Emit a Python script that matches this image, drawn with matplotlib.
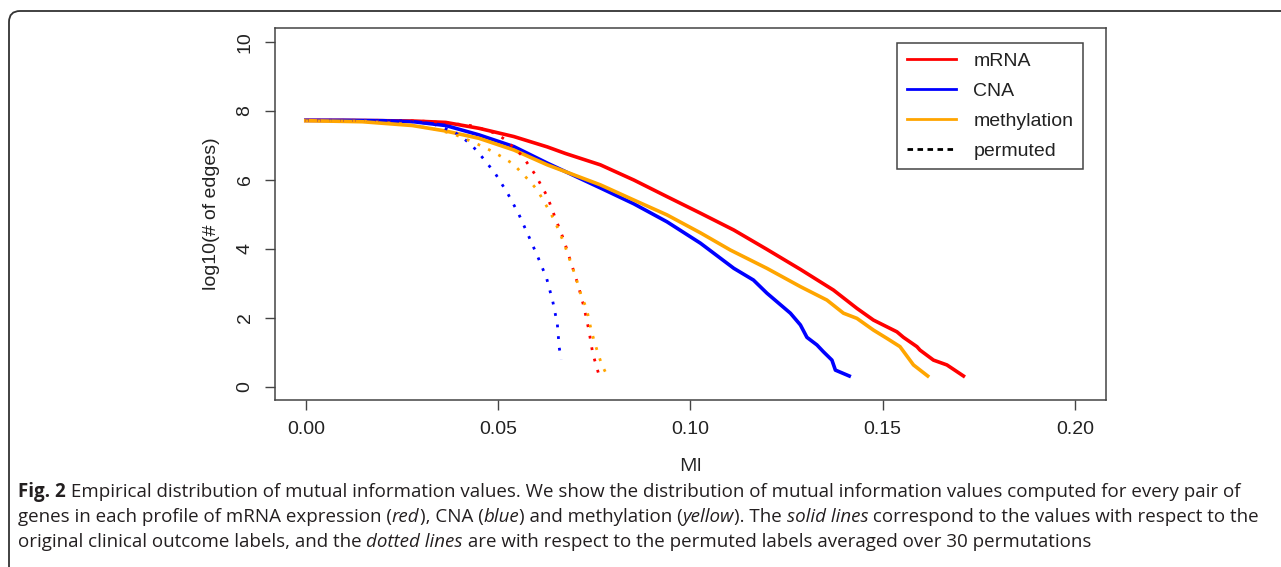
import matplotlib
matplotlib.use("Agg")
import matplotlib.pyplot as plt
from matplotlib.lines import Line2D
from matplotlib.patches import FancyBboxPatch
from matplotlib.transforms import IdentityTransform

# solid lines: original labels
mrna_x = [0.000, 0.010, 0.020, 0.028, 0.0364, 0.045, 0.0541, 0.0628, 0.0675, 0.0766,
          0.0853, 0.0939, 0.1026, 0.1113, 0.1199, 0.1286, 0.1372, 0.1433, 0.1476,
          0.1537, 0.1554, 0.1589, 0.1597, 0.1632, 0.1667, 0.1710]
mrna_y = [7.72, 7.72, 7.71, 7.70, 7.66, 7.49, 7.25, 6.95, 6.76, 6.43,
          5.99, 5.51, 5.03, 4.54, 3.98, 3.40, 2.80, 2.27, 1.93,
          1.59, 1.43, 1.16, 1.06, 0.77, 0.63, 0.31]

cna_x = [0.000, 0.010, 0.020, 0.028, 0.0364, 0.045, 0.0541, 0.0628, 0.0766, 0.0853,
         0.0939, 0.1026, 0.1113, 0.1164, 0.1199, 0.1260, 0.1286, 0.1303, 0.1329,
         0.1346, 0.1368, 0.1377, 0.1413]
cna_y = [7.72, 7.72, 7.71, 7.68, 7.57, 7.30, 6.96, 6.48, 5.76, 5.30,
         4.78, 4.16, 3.43, 3.09, 2.71, 2.13, 1.79, 1.43, 1.21,
         1.01, 0.77, 0.48, 0.31]

meth_x = [0.000, 0.0147, 0.0277, 0.0364, 0.045, 0.0541, 0.0628, 0.0766, 0.0853, 0.0939,
          0.1026, 0.1104, 0.1199, 0.1286, 0.1355, 0.1398, 0.1433, 0.1476, 0.1511,
          0.1545, 0.1580, 0.1617]
meth_y = [7.71, 7.68, 7.57, 7.41, 7.20, 6.86, 6.43, 5.85, 5.41, 4.98,
          4.46, 3.96, 3.43, 2.90, 2.51, 2.13, 1.98, 1.64, 1.40,
          1.16, 0.63, 0.31]

# dotted lines: permuted labels
mrna_p_x = [0.000, 0.020, 0.030, 0.0372, 0.0436, 0.0494, 0.052, 0.0563, 0.0597, 0.0628,
            0.0649, 0.0671, 0.069, 0.0708, 0.0723, 0.0736, 0.0746, 0.0763]
mrna_p_y = [7.72, 7.72, 7.70, 7.64, 7.56, 7.34, 7.15, 6.69, 6.14, 5.51,
            4.88, 4.25, 3.58, 2.95, 2.32, 1.64, 0.97, 0.31]

cna_p_x = [0.000, 0.015, 0.025, 0.033, 0.0385, 0.041, 0.0433, 0.0453, 0.0492, 0.0524,
           0.0553, 0.0578, 0.0603, 0.0626, 0.0642, 0.0654, 0.0659, 0.0664]
cna_p_y = [7.72, 7.72, 7.71, 7.62, 7.39, 7.20, 6.98, 6.73, 6.19, 5.62,
           5.02, 4.40, 3.77, 3.15, 2.48, 1.82, 1.13, 0.79]

meth_p_x = [0.000, 0.015, 0.025, 0.033, 0.0385, 0.0433, 0.046, 0.0487, 0.0513, 0.054,
            0.0561, 0.0582, 0.0602, 0.0617, 0.0633, 0.0647, 0.0659, 0.0671, 0.070,
            0.0717, 0.073, 0.0743, 0.076, 0.077, 0.0784]
meth_p_y = [7.71, 7.70, 7.62, 7.48, 7.32, 7.10, 6.96, 6.81, 6.64, 6.45,
            6.20, 5.96, 5.70, 5.41, 5.10, 4.81, 4.49, 4.17, 3.24,
            2.61, 2.27, 1.59, 0.95, 0.63, 0.31]

x_ticks = [0.00, 0.05, 0.10, 0.15, 0.20]
x_tick_labels = ["0.00", "0.05", "0.10", "0.15", "0.20"]
y_ticks = [0, 2, 4, 6, 8, 10]
legend_labels = ["mRNA", "CNA", "methylation", "permuted"]

RED, BLUE, ORANGE = "#FF0000", "#0000FF", "#FFA500"
AXF = "Liberation Sans"
CAPF = "Open Sans"

fig = plt.figure(figsize=(12.81, 5.67), dpi=100)
ax = fig.add_axes([0.2147, 0.2937, 0.8632 - 0.2147, 0.9508 - 0.2937])

lw = 2.6
dot = (0, (1, 3.2))
ax.plot(mrna_x, mrna_y, color=RED, lw=lw, solid_joinstyle="round")
ax.plot(cna_x, cna_y, color=BLUE, lw=lw, solid_joinstyle="round")
ax.plot(meth_x, meth_y, color=ORANGE, lw=lw, solid_joinstyle="round")
ax.plot(mrna_p_x, mrna_p_y, color=RED, lw=2, ls=dot, dash_capstyle="butt")
ax.plot(cna_p_x, cna_p_y, color=BLUE, lw=2, ls=dot, dash_capstyle="butt")
ax.plot(meth_p_x, meth_p_y, color=ORANGE, lw=2, ls=dot, dash_capstyle="butt")

ax.set_xlim(-0.008, 0.208)
ax.set_ylim(-0.4, 10.4)
ax.set_xticks(x_ticks)
ax.set_xticklabels(x_tick_labels)
ax.set_yticks(y_ticks)
for s in ax.spines.values():
    s.set_color("#444444")
    s.set_linewidth(1.1)
ax.tick_params(length=7.5, width=1, color="#444444", labelsize=14, labelcolor="#222222")
ax.tick_params(axis="x", pad=7)
ax.tick_params(axis="y", pad=8)
for t in ax.get_xticklabels() + ax.get_yticklabels():
    t.set_family(AXF)
for t in ax.get_yticklabels():
    t.set_rotation(90)
    t.set_va("center")

ax.set_ylabel("log10(# of edges)", fontsize=14, family=AXF, color="#222222", labelpad=12)
ax.set_xlabel("MI", fontsize=14, family=CAPF, color="#222222", labelpad=14)

handles = [Line2D([], [], color=RED, lw=2),
           Line2D([], [], color=BLUE, lw=2),
           Line2D([], [], color=ORANGE, lw=2),
           Line2D([], [], color="black", lw=2, ls=(0, (2, 1.6)))]
leg = ax.legend(handles, legend_labels, loc="upper right",
                bbox_to_anchor=(1083 / 1281, 1 - 42.7 / 567), bbox_transform=fig.transFigure,
                borderaxespad=0, fancybox=False, framealpha=1, edgecolor="#444444",
                prop={"family": AXF, "size": 14}, handlelength=2.5, handletextpad=0.9,
                labelspacing=0.63, borderpad=0.5)
leg.get_frame().set_linewidth(1.1)
for t in leg.get_texts():
    t.set_color("#222222")

# outer frame with rounded top-left corner (right and bottom run off the image)
frame = FancyBboxPatch((9, -60), 1400, 556 + 60, boxstyle="round,pad=0,rounding_size=11",
                       transform=IdentityTransform(), fill=False, edgecolor="#333333",
                       linewidth=1.3)
fig.add_artist(frame)

# caption
line1 = [("Fig. 2", "normal", "bold"),
         (" Empirical distribution of mutual information values. We show the distribution of "
          "mutual information values computed for every pair of", "normal", "normal")]
line2 = [("genes in each profile of mRNA expression (", "normal", "normal"),
         ("red", "italic", "normal"), ("), CNA (", "normal", "normal"),
         ("blue", "italic", "normal"), (") and methylation (", "normal", "normal"),
         ("yellow", "italic", "normal"), ("). The ", "normal", "normal"),
         ("solid lines", "italic", "normal"),
         (" correspond to the values with respect to the", "normal", "normal")]
line3 = [("original clinical outcome labels, and the ", "normal", "normal"),
         ("dotted lines", "italic", "normal"),
         (" are with respect to the permuted labels averaged over 30 permutations", "normal", "normal")]

renderer = fig.canvas.get_renderer()


def run_width(runs, size):
    w = 0
    for txt, st, wt in runs:
        t = fig.text(0, 0, txt, fontsize=size, family=CAPF, style=st, weight=wt)
        w += t.get_window_extent(renderer).width
        t.remove()
    return w


cap_size = 12 * 1216 / run_width(line1, 12)


def draw_runs(runs, x0, y0):
    x = x0
    for txt, st, wt in runs:
        t = fig.text(x, y0, txt, fontsize=cap_size, family=CAPF, style=st, weight=wt,
                     color="#231f20", transform=IdentityTransform(), va="baseline")
        x += t.get_window_extent(renderer).width


draw_runs(line1, 18, 567 - 497)
draw_runs(line2, 18, 567 - 522)
draw_runs(line3, 18, 567 - 547)

fig.savefig("out.png", dpi=100)
